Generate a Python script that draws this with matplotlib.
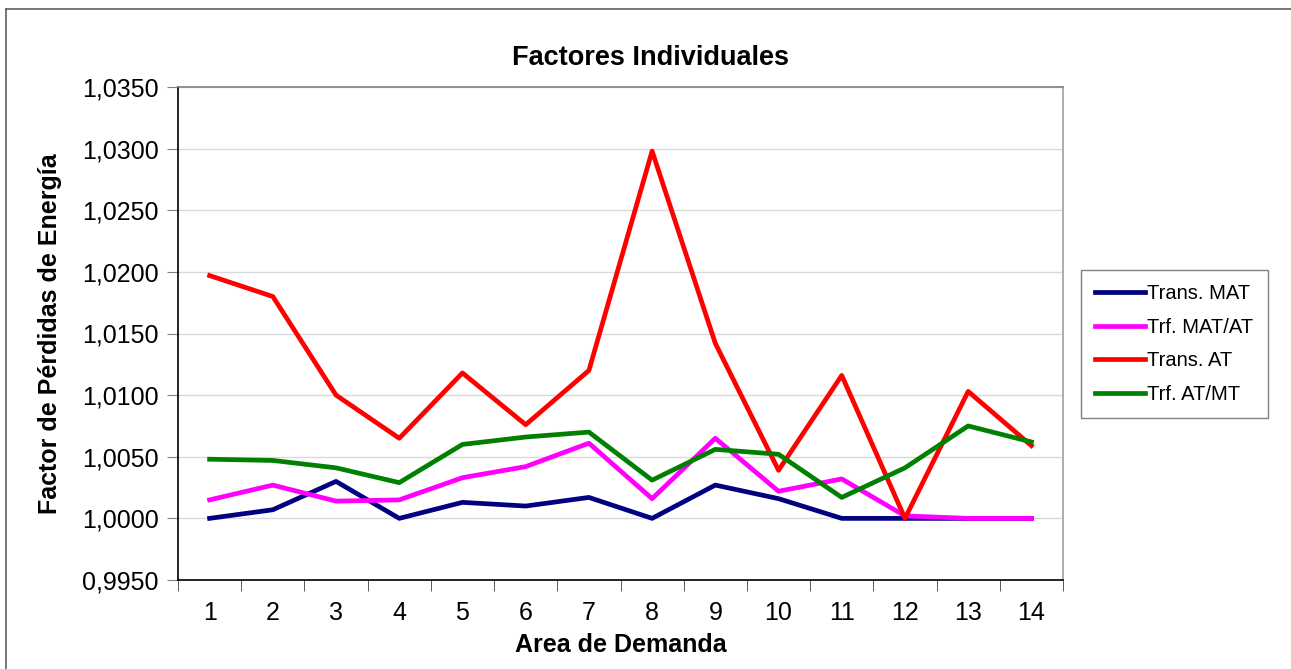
import matplotlib.pyplot as plt
from matplotlib.lines import Line2D
from matplotlib.ticker import FuncFormatter

plt.rcParams['font.family'] = ['Liberation Sans', 'DejaVu Sans']

areas = list(range(1, 15))
trans_mat = [1.0000, 1.0007, 1.0030, 1.0000, 1.0013, 1.0010, 1.0017,
             1.0000, 1.0027, 1.0016, 1.0000, 1.0000, 1.0000, 1.0000]
trf_mat_at = [1.0015, 1.0027, 1.0014, 1.0015, 1.0033, 1.0042, 1.0061,
              1.0016, 1.0065, 1.0022, 1.0032, 1.0002, 1.0000, 1.0000]
trans_at = [1.0197, 1.0180, 1.0100, 1.0065, 1.0118, 1.0076, 1.0120,
            1.0298, 1.0142, 1.0039, 1.0116, 1.0000, 1.0103, 1.0059]
trf_at_mt = [1.0048, 1.0047, 1.0041, 1.0029, 1.0060, 1.0066, 1.0070,
             1.0031, 1.0056, 1.0052, 1.0017, 1.0041, 1.0075, 1.0062]

fig = plt.figure(figsize=(12.91, 6.69), dpi=100)
ax = fig.add_axes([178/1291, 1-580/669, (1063-178)/1291, (580-87)/669])

ax.plot(areas, trans_mat, color='#000080', lw=3.4, label='Trans. MAT', zorder=3)
ax.plot(areas, trf_mat_at, color='#FF00FF', lw=3.4, label='Trf. MAT/AT', zorder=3)
ax.plot(areas, trans_at, color='#FF0000', lw=3.4, label='Trans. AT', zorder=3)
ax.plot(areas, trf_at_mt, color='#008000', lw=3.4, label='Trf. AT/MT', zorder=3)

ax.set_xlim(0.5, 14.5)
ax.set_ylim(0.995, 1.035)
ax.set_yticks([0.995 + 0.005*i for i in range(9)])
ax.yaxis.set_major_formatter(FuncFormatter(lambda v, p: f'{v:.4f}'.replace('.', ',')))
ax.set_xticks(areas)
ax.set_xticks([i + 0.5 for i in range(0, 15)], minor=True)
ax.tick_params(axis='x', which='major', length=0, labelsize=18, pad=15)
ax.tick_params(axis='x', which='minor', length=8, color='#404040', direction='out')
ax.tick_params(axis='y', length=8, color='#808080', labelsize=18, pad=6)
ax.grid(axis='y', color='#D9D9D9', lw=1)
ax.set_axisbelow(True)

ax.spines['left'].set_color('black')
ax.spines['bottom'].set_color('black')
ax.spines['top'].set_color('#808080')
ax.spines['right'].set_color('#A0A0A0')
for s in ax.spines.values():
    s.set_linewidth(1.2)

ax.set_title('Factores Individuales', fontsize=19.5, fontweight='bold', pad=16,
             x=(650-178)/885)
ax.set_xlabel('Area de Demanda', fontsize=18, fontweight='bold', labelpad=6)
ax.set_ylabel('Factor de Pérdidas de Energía', fontsize=18, fontweight='bold', labelpad=14)

leg = ax.legend(loc='upper left', bbox_to_anchor=(1081/1291, 1-270/669),
                bbox_transform=fig.transFigure, fontsize=14.5, frameon=True,
                fancybox=False, handlelength=2.5, handletextpad=0.1,
                labelspacing=0.72, borderpad=0.7, borderaxespad=0)
leg.get_frame().set_edgecolor('#606060')
leg.get_frame().set_linewidth(1)

fig.add_artist(Line2D([6/1291, 6/1291], [0, 1-9/669], color='#606060', lw=1.2,
                      transform=fig.transFigure))
fig.add_artist(Line2D([6/1291, 1], [1-9/669, 1-9/669], color='#606060', lw=1.2,
                      transform=fig.transFigure))

fig.savefig('out.png', dpi=100)
